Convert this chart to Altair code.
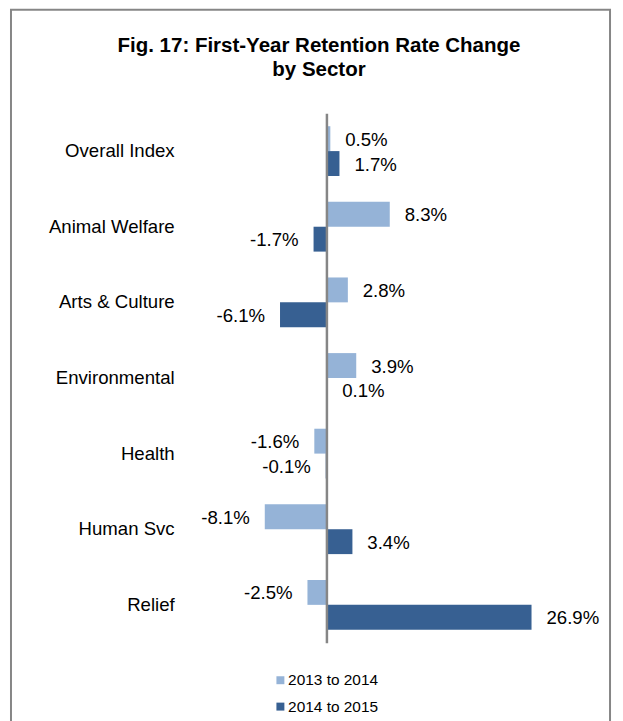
import altair as alt
import pandas as pd

categories = ["Overall Index", "Animal Welfare", "Arts & Culture", "Environmental",
              "Health", "Human Svc", "Relief"]
series_names = ["2013 to 2014", "2014 to 2015"]
values_2013_2014 = [0.5, 8.3, 2.8, 3.9, -1.6, -8.1, -2.5]
values_2014_2015 = [1.7, -1.7, -6.1, 0.1, -0.1, 3.4, 26.9]
colors = ["#95B3D7", "#376092"]

rows = []
for i, c in enumerate(categories):
    for s, vals in zip(series_names, [values_2013_2014, values_2014_2015]):
        v = vals[i]
        rows.append({"sector": c, "series": s, "value": v, "label": f"{v:.1f}%"})
df = pd.DataFrame(rows)

FONT = "Liberation Sans"

x_scale = alt.Scale(domain=[-41.4, 37.2], nice=False, zero=False)
y_scale = alt.Scale(domain=categories, range=[104, 636], paddingInner=0.342, paddingOuter=0.171)

base = alt.Chart(df).encode(
    y=alt.Y("sector:N", scale=y_scale, sort=categories,
            axis=alt.Axis(title=None, offset=-317, labelPadding=153, ticks=False,
                          domainColor="#868686", domainWidth=2.5, labelFontSize=18.7,
                          labelFont=FONT, labelColor="black", zindex=1)),
    yOffset=alt.YOffset("series:N", sort=series_names),
)

bars = base.mark_bar().encode(
    x=alt.X("value:Q", scale=x_scale, axis=None, stack=None),
    color=alt.Color("series:N", sort=series_names,
                    scale=alt.Scale(domain=series_names, range=colors),
                    legend=alt.Legend(orient="none", legendX=263, legendY=666, title=None,
                                      symbolType="square", symbolSize=64,
                                      labelFontSize=15.5, labelFont=FONT, labelColor="black",
                                      rowPadding=9.5, labelOffset=0, symbolStrokeWidth=0)),
)

pos = base.mark_text(align="left", baseline="middle", dx=15, dy=1, fontSize=18.7, font=FONT,
                     color="black").encode(
    x=alt.X("value:Q", scale=x_scale, axis=None), text="label:N"
).transform_filter("datum.value >= 0")

neg = base.mark_text(align="right", baseline="middle", dx=-15, dy=1, fontSize=18.7, font=FONT,
                     color="black").encode(
    x=alt.X("value:Q", scale=x_scale, axis=None), text="label:N"
).transform_filter("datum.value < 0")

chart = alt.layer(bars, pos, neg).properties(
    width=602, height=730,
    autosize="none",
    padding={"left": 3, "top": 0, "right": 5, "bottom": 0},
    title=alt.Title(["Fig. 17: First-Year Retention Rate Change", "by Sector"],
                    fontSize=20.6, font=FONT, fontWeight="bold", color="black",
                    anchor="middle", frame="group", offset=-71, dx=8.5,
                    lineHeight=24, baseline="top"),
).configure_view(stroke="#868686", strokeWidth=2)

chart.save("out.html", embed_options={"renderer": "svg", "actions": False})
